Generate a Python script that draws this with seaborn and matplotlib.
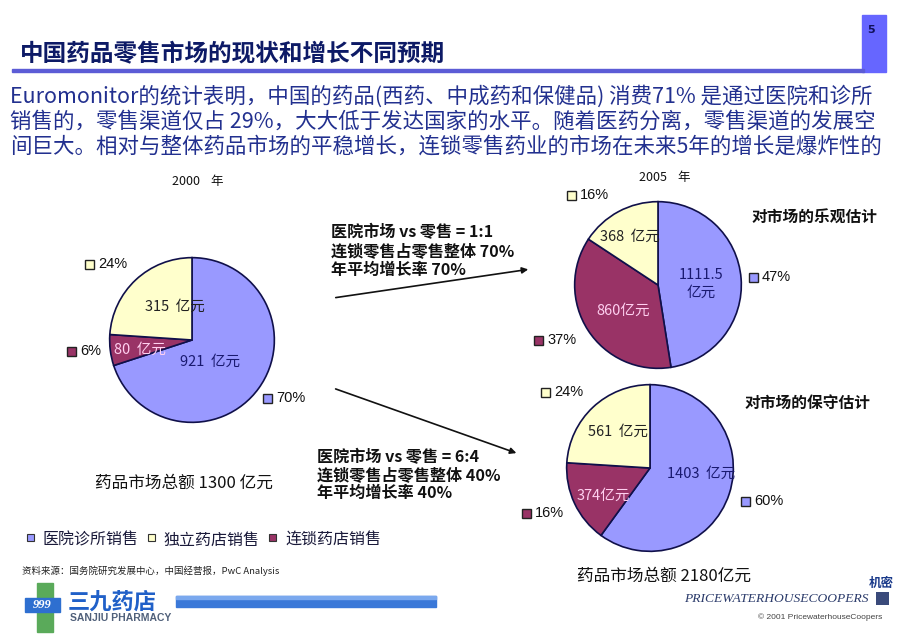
import matplotlib
matplotlib.use("Agg")
import matplotlib.pyplot as plt
import seaborn as sns
from matplotlib.patches import Rectangle

sns.set_theme(style="white")
plt.rcParams['font.family'] = ['Noto Sans CJK SC', 'DejaVu Sans']

# ---------------- data ----------------
segments = ["医院诊所销售", "独立药店销售", "连锁药店销售"]
pie_2000_vals = [921, 80, 315]          # blue, maroon, yellow (clockwise order)
pie_2000_pcts = ["70%", "6%", "24%"]
pie_2000_txt = ["921  亿元", "80  亿元", "315  亿元"]
pie_opt_vals = [1111.5, 860, 368]
pie_opt_pcts = ["47%", "37%", "16%"]
pie_opt_txt = ["1111.5\n亿元", "860亿元", "368  亿元"]
pie_con_vals = [1403, 374, 561]
pie_con_pcts = ["60%", "16%", "24%"]
pie_con_txt = ["1403  亿元", "374亿元", "561  亿元"]

colors = ["#9999ff", "#993366", "#ffffcc"]   # blue, maroon, yellow
label_colors = ["#1a1a70", "#ffd0f0", "#222222"]

W, H = 920, 638
fig = plt.figure(figsize=(W / 100, H / 100), dpi=100)
fig.patch.set_facecolor("white")

bg = fig.add_axes([0, 0, 1, 1])
bg.set_xlim(0, W)
bg.set_ylim(H, 0)
bg.axis("off")

# ---------------- header ----------------
bg.add_patch(Rectangle((862, 15), 24, 57, color="#6666ff", zorder=2))
bg.text(867, 30, "5", fontsize=8, fontweight="bold", color="#10105a", va="center", ha="left",
        family="DejaVu Sans")
bg.add_patch(Rectangle((12, 68.5), 852, 3, color="#5c5cd6", zorder=2))
bg.text(20, 54, "中国药品零售市场的现状和增长不同预期", fontsize=17, fontweight="bold",
        color="#0d1a66", va="center", ha="left")

body = ["Euromonitor的统计表明，中国的药品(西药、中成药和保健品) 消费71% 是通过医院和诊所",
        "销售的，零售渠道仅占 29%，大大低于发达国家的水平。随着医药分离，零售渠道的发展空",
        "间巨大。相对与整体药品市场的平稳增长，连锁零售药业的市场在未来5年的增长是爆炸性的"]
for i, line in enumerate(body):
    bg.text(10, 96 + 25.5 * i, line, fontsize=15.45, color="#22308f", va="center", ha="left")

# ---------------- pies ----------------
def draw_pie(cx, cy, r, vals):
    ax = fig.add_axes([(cx - r) / W, 1 - (cy + r) / H, 2 * r / W, 2 * r / H])
    ax.pie(vals, colors=colors, startangle=90, counterclock=False,
           wedgeprops=dict(edgecolor="#10104a", linewidth=1.2))
    ax.set_xlim(-1.02, 1.02)
    ax.set_ylim(-1.02, 1.02)
    ax.set_aspect("equal")
    ax.axis("off")
    return ax

draw_pie(192, 340, 84, pie_2000_vals)
draw_pie(658, 285, 85, pie_opt_vals)
draw_pie(650, 468, 85, pie_con_vals)

def sq_label(x, y, color, text):
    bg.add_patch(Rectangle((x - 4.5, y - 4.5), 9, 9, facecolor=color, edgecolor="#222222",
                           linewidth=1.0, zorder=5))
    bg.text(x + 8, y, text, fontsize=10.5, va="center", ha="left", color="#111111",
            family=["Liberation Sans", "DejaVu Sans"])

# 2000 pie labels
sq_label(268, 398, colors[0], pie_2000_pcts[0])
sq_label(72, 351, colors[1], pie_2000_pcts[1])
sq_label(90, 264, colors[2], pie_2000_pcts[2])
inner = [(180, 362, pie_2000_txt[0]), (114, 350, pie_2000_txt[1]), (145, 307, pie_2000_txt[2])]
for (x, y, t), c in zip(inner, label_colors):
    fig.text(x / W, 1 - y / H, t, fontsize=10.5, color=c, va="center", ha="left", zorder=10)

# optimistic
sq_label(754, 277, colors[0], pie_opt_pcts[0])
sq_label(539, 340, colors[1], pie_opt_pcts[1])
sq_label(572, 195, colors[2], pie_opt_pcts[2])
fig.text(701 / W, 1 - 284 / H, pie_opt_txt[0], fontsize=10.5, color=label_colors[0], va="center",
         ha="center", linespacing=1.3, zorder=10)
fig.text(596 / W, 1 - 311 / H, pie_opt_txt[1], fontsize=10.5, color=label_colors[1], va="center",
         ha="left", zorder=10)
fig.text(600 / W, 1 - 237 / H, pie_opt_txt[2], fontsize=10.5, color=label_colors[2], va="center",
         ha="left", zorder=10)

# conservative
sq_label(746, 501, colors[0], pie_con_pcts[0])
sq_label(527, 513, colors[1], pie_con_pcts[1])
sq_label(546, 392, colors[2], pie_con_pcts[2])
fig.text(667 / W, 1 - 474 / H, pie_con_txt[0], fontsize=10.5, color=label_colors[0], va="center",
         ha="left", zorder=10)
fig.text(577 / W, 1 - 496 / H, pie_con_txt[1], fontsize=10.5, color=label_colors[1], va="center",
         ha="left", zorder=10)
fig.text(588 / W, 1 - 432 / H, pie_con_txt[2], fontsize=10.5, color=label_colors[2], va="center",
         ha="left", zorder=10)

# year labels
bg.text(172, 181, "2000    年", fontsize=9, color="#111111", va="center", ha="left")
bg.text(639, 178, "2005    年", fontsize=9, color="#111111", va="center", ha="left")

# scenario notes and arrows
note1 = ["医院市场 vs 零售 = 1:1", "连锁零售占零售整体 70%", "年平均增长率 70%"]
note2 = ["医院市场 vs 零售 = 6:4", "连锁零售占零售整体 40%", "年平均增长率 40%"]
for i, t in enumerate(note1):
    bg.text(331, 232 + 19 * i, t, fontsize=11.6, fontweight="bold", color="#111111",
            va="center", ha="left")
for i, t in enumerate(note2):
    bg.text(317, 457 + 18 * i, t, fontsize=11.6, fontweight="bold", color="#111111",
            va="center", ha="left")
arrow = dict(arrowstyle="-|>", color="#111111", lw=1.2, mutation_scale=9)
bg.annotate("", xy=(531, 269), xytext=(333, 298), arrowprops=arrow)
bg.annotate("", xy=(519, 454), xytext=(333, 388), arrowprops=arrow)

bg.text(752, 218, "对市场的乐观估计", fontsize=11.3, fontweight="bold", color="#111111",
        va="center", ha="left")
bg.text(745, 403, "对市场的保守估计", fontsize=11.3, fontweight="bold", color="#111111",
        va="center", ha="left")

bg.text(95, 483, "药品市场总额 1300 亿元", fontsize=12, color="#111111", va="center", ha="left")
bg.text(577, 576, "药品市场总额 2180亿元", fontsize=12, color="#111111", va="center", ha="left")

# legend
leg_x = [31, 152, 273]
for x, name, c in zip(leg_x, segments, [colors[0], colors[2], colors[1]]):
    bg.add_patch(Rectangle((x - 3.5, 534), 7, 7, facecolor=c, edgecolor="#333333", linewidth=0.8))
    bg.text(x + 12, 540, name, fontsize=11.5, color="#1a1a3a", va="center", ha="left")

bg.text(22, 571, "资料来源：国务院研究发展中心，中国经营报，PwC Analysis", fontsize=6.8,
        color="#222222", va="center", ha="left")

# ---------------- logos ----------------
bg.add_patch(Rectangle((37, 583), 16, 49, color="#5aaa5a"))
bg.add_patch(Rectangle((25, 598), 35, 14, color="#2e6fd0"))
bg.text(42, 605, "999", fontsize=9, fontweight="bold", color="white", va="center", ha="center",
        family=["Liberation Serif", "DejaVu Serif"], style="italic")
bg.text(68, 602, "三九药店", fontsize=16, fontweight="bold", color="#2060c8", va="center", ha="left")
bg.add_patch(Rectangle((176, 596), 260, 11, color="#3a78d8"))
bg.add_patch(Rectangle((176, 596), 260, 3, color="#7aa8ee"))
bg.text(70, 618, "SANJIU PHARMACY", fontsize=7.5, fontweight="bold", color="#50607a",
        va="center", ha="left", family=["Liberation Sans", "DejaVu Sans"])

bg.text(684, 599, "PRICEWATERHOUSECOOPERS", fontsize=9.7, style="italic", color="#2a3a6a",
        va="center", ha="left", family=["Liberation Serif", "DejaVu Serif"])
bg.text(869, 583, "机密", fontsize=9, fontweight="bold", color="#1a3a8a", va="center", ha="left")
bg.add_patch(Rectangle((876, 592), 13, 13, facecolor="#3a4a7a", edgecolor="none"))
bg.text(882, 617, "© 2001 PricewaterhouseCoopers", fontsize=6, color="#444444", va="center",
        ha="right", family=["Liberation Sans", "DejaVu Sans"])

fig.savefig("out.png", dpi=100, facecolor="white")
